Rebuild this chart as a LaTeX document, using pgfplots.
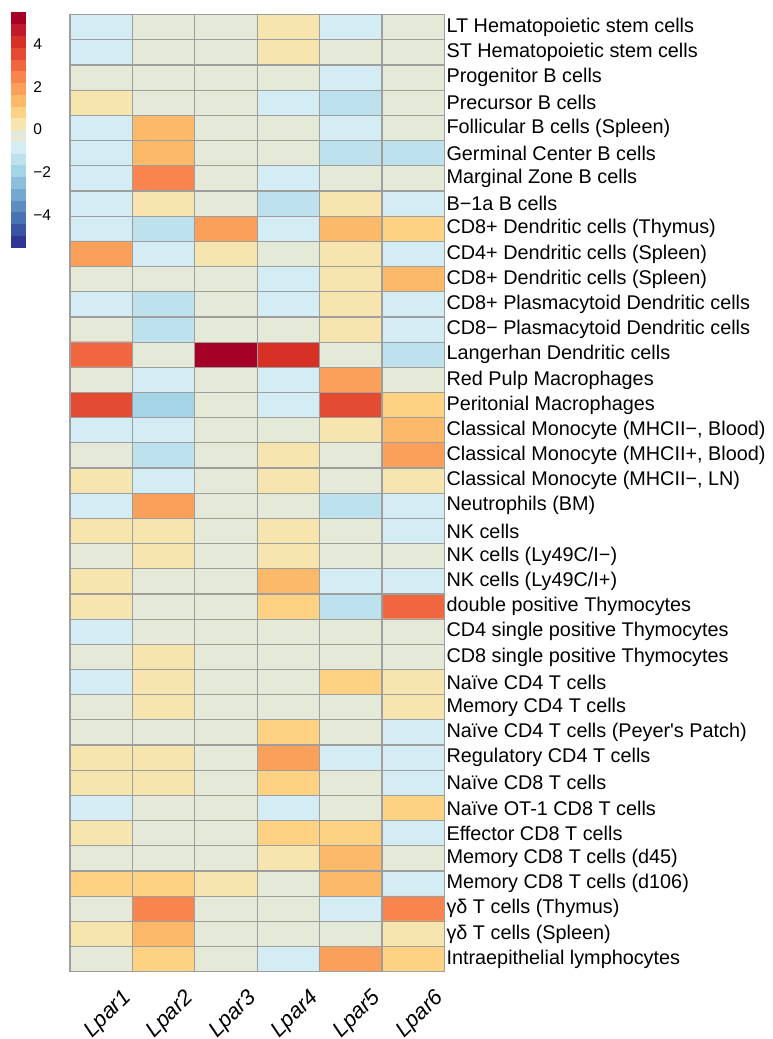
\documentclass[border=0pt]{standalone}
\usepackage{fontspec}
\setmainfont{Liberation Sans}
\usepackage{pgfplots}
\pgfplotsset{compat=1.18}
\usepackage{pgfplotstable}

\pgfplotstableread{
x y c
0 0 -0.8
1 0 -0.3
2 0 -0.3
3 0 0.3
4 0 -0.8
5 0 -0.3
0 1 -0.8
1 1 -0.3
2 1 -0.3
3 1 0.3
4 1 -0.3
5 1 -0.3
0 2 -0.3
1 2 -0.3
2 2 -0.3
3 2 -0.3
4 2 -0.8
5 2 -0.3
0 3 0.3
1 3 -0.3
2 3 -0.3
3 3 -0.8
4 3 -1.4
5 3 -0.3
0 4 -0.8
1 4 1.4
2 4 -0.3
3 4 -0.3
4 4 -0.8
5 4 -0.3
0 5 -0.8
1 5 1.4
2 5 -0.3
3 5 -0.3
4 5 -1.4
5 5 -1.4
0 6 -0.8
1 6 2.5
2 6 -0.3
3 6 -0.8
4 6 -0.3
5 6 -0.3
0 7 -0.8
1 7 0.3
2 7 -0.3
3 7 -1.4
4 7 0.3
5 7 -0.8
0 8 -0.8
1 8 -1.4
2 8 1.9
3 8 -0.8
4 8 1.4
5 8 0.8
0 9 1.9
1 9 -0.8
2 9 0.3
3 9 -0.3
4 9 0.3
5 9 -0.8
0 10 -0.3
1 10 -0.3
2 10 -0.3
3 10 -0.8
4 10 0.3
5 10 1.4
0 11 -0.8
1 11 -1.4
2 11 -0.3
3 11 -0.8
4 11 0.3
5 11 -0.8
0 12 -0.3
1 12 -1.4
2 12 -0.3
3 12 -0.3
4 12 0.3
5 12 -0.8
0 13 3.0
1 13 -0.3
2 13 5.2
3 13 4.1
4 13 -0.3
5 13 -1.4
0 14 -0.3
1 14 -0.8
2 14 -0.3
3 14 -0.8
4 14 1.9
5 14 -0.3
0 15 3.6
1 15 -1.9
2 15 -0.3
3 15 -0.8
4 15 3.6
5 15 0.8
0 16 -0.8
1 16 -0.8
2 16 -0.3
3 16 -0.3
4 16 0.3
5 16 1.4
0 17 -0.3
1 17 -1.4
2 17 -0.3
3 17 0.3
4 17 -0.3
5 17 1.9
0 18 0.3
1 18 -0.8
2 18 -0.3
3 18 0.3
4 18 -0.3
5 18 0.3
0 19 -0.8
1 19 1.9
2 19 -0.3
3 19 -0.3
4 19 -1.4
5 19 -0.8
0 20 0.3
1 20 0.3
2 20 -0.3
3 20 0.3
4 20 -0.3
5 20 -0.8
0 21 -0.3
1 21 0.3
2 21 -0.3
3 21 0.3
4 21 -0.3
5 21 -0.3
0 22 0.3
1 22 -0.3
2 22 -0.3
3 22 1.4
4 22 -0.8
5 22 -0.8
0 23 0.3
1 23 -0.3
2 23 -0.3
3 23 0.8
4 23 -1.4
5 23 3.0
0 24 -0.8
1 24 -0.3
2 24 -0.3
3 24 -0.3
4 24 -0.3
5 24 -0.3
0 25 -0.3
1 25 0.3
2 25 -0.3
3 25 -0.3
4 25 -0.3
5 25 -0.3
0 26 -0.8
1 26 0.3
2 26 -0.3
3 26 -0.3
4 26 0.8
5 26 0.3
0 27 -0.3
1 27 0.3
2 27 -0.3
3 27 -0.3
4 27 -0.3
5 27 0.3
0 28 -0.3
1 28 -0.3
2 28 -0.3
3 28 0.8
4 28 -0.3
5 28 -0.8
0 29 0.3
1 29 0.3
2 29 -0.3
3 29 1.9
4 29 -0.8
5 29 -0.8
0 30 0.3
1 30 0.3
2 30 -0.3
3 30 0.8
4 30 -0.3
5 30 -0.8
0 31 -0.8
1 31 -0.3
2 31 -0.3
3 31 -0.8
4 31 -0.3
5 31 0.8
0 32 0.3
1 32 -0.3
2 32 -0.3
3 32 0.8
4 32 0.8
5 32 -0.8
0 33 -0.3
1 33 -0.3
2 33 -0.3
3 33 0.3
4 33 1.4
5 33 -0.3
0 34 0.8
1 34 0.8
2 34 0.3
3 34 -0.3
4 34 1.4
5 34 -0.8
0 35 -0.3
1 35 2.5
2 35 -0.3
3 35 -0.3
4 35 -0.8
5 35 2.5
0 36 0.3
1 36 1.4
2 36 -0.3
3 36 -0.3
4 36 -0.3
5 36 0.3
0 37 -0.3
1 37 0.8
2 37 -0.3
3 37 -0.8
4 37 1.9
5 37 0.8
}\heatdata

\begin{document}
\begin{tikzpicture}
\useasboundingbox (-35bp,-33.65bp) rectangle (351.5bp,485.85bp);
\begin{axis}[
  at={(0,0)}, anchor=south west,
  scale only axis,
  width=187.25bp, height=478.5bp,
  xmin=-0.5, xmax=5.5, ymin=-0.5, ymax=37.5,
  y dir=reverse,
  axis on top,
  enlargelimits=false,
  xtick={0,1,2,3,4,5},
  xticklabels={Lpar1,Lpar2,Lpar3,Lpar4,Lpar5,Lpar6},
  ytick={0,1,...,37},
  yticklabels={
    LT Hematopoietic stem cells,
    ST Hematopoietic stem cells,
    Progenitor B cells,
    Precursor B cells,
    Follicular B cells (Spleen),
    Germinal Center B cells,
    Marginal Zone B cells,
    B−1a B cells,
    CD8+ Dendritic cells (Thymus),
    CD4+ Dendritic cells (Spleen),
    CD8+ Dendritic cells (Spleen),
    CD8+ Plasmacytoid Dendritic cells,
    CD8− Plasmacytoid Dendritic cells,
    Langerhan Dendritic cells,
    Red Pulp Macrophages,
    Peritonial Macrophages,
    {Classical Monocyte (MHCII−, Blood)},
    {Classical Monocyte (MHCII+, Blood)},
    {Classical Monocyte (MHCII−, LN)},
    Neutrophils (BM),
    NK cells,
    NK cells (Ly49C/I−),
    NK cells (Ly49C/I+),
    double positive Thymocytes,
    CD4 single positive Thymocytes,
    CD8 single positive Thymocytes,
    Naïve CD4 T cells,
    Memory CD4 T cells,
    Naïve CD4 T cells (Peyer\textquotesingle s Patch),
    Regulatory CD4 T cells,
    Naïve CD8 T cells,
    Naïve OT-1 CD8 T cells,
    Effector CD8 T cells,
    Memory CD8 T cells (d45),
    Memory CD8 T cells (d106),
    γδ T cells (Thymus),
    γδ T cells (Spleen),
    Intraepithelial lymphocytes},
  yticklabel pos=right,
  minor xtick={-0.5,0.5,...,5.5},
  minor ytick={-0.5,0.5,...,37.5},
  xminorgrids, yminorgrids,
  minor grid style={draw=black!38, line width=0.6bp},
  axis line style={draw=black!38, line width=0.6bp},
  major tick length=0pt, minor tick length=0pt,
  tick style={draw=none},
  yticklabel style={font=\fontsize{9.95}{12}\selectfont, anchor=west, inner ysep=0.3bp, xshift=-2.5bp},
  xticklabel style={font=\fontsize{11}{13}\selectfont\itshape, rotate=45, anchor=north east, inner sep=0.5bp, xshift=2bp, yshift=-12bp},
  colormap={lpar}{
    rgb255=(49,54,149) rgb255=(58,84,164) rgb255=(74,114,178) rgb255=(93,141,193)
    rgb255=(116,169,207) rgb255=(140,191,219) rgb255=(165,212,231) rgb255=(189,226,238)
    rgb255=(212,236,243) rgb255=(229,234,216) rgb255=(246,229,174) rgb255=(253,211,131)
    rgb255=(253,185,106) rgb255=(250,160,90) rgb255=(247,133,77) rgb255=(240,103,63)
    rgb255=(227,75,51) rgb255=(215,48,39) rgb255=(190,26,42) rgb255=(165,0,38)},
  colormap access=piecewise constant,
  point meta min=-5.5, point meta max=5.5,
  colorbar,
  colorbar style={
    at={(parent axis.north west)}, anchor=north west,
    xshift=-38bp, yshift=1.35bp,
    scale only axis,
    width=7.65bp, height=117.5bp,
    ytick={-4,-2,0,2,4},
    yticklabels={−4,−2,0,2,4},
    yticklabel style={font=\fontsize{7.8}{9}\selectfont, anchor=west},
    major tick length=0pt,
    tick style={draw=none},
    axis line style={draw=none},
  },
]
\addplot[matrix plot*, mesh/cols=6, point meta=explicit] table[x=x, y=y, meta=c] {\heatdata};
\end{axis}
\end{tikzpicture}
\end{document}
